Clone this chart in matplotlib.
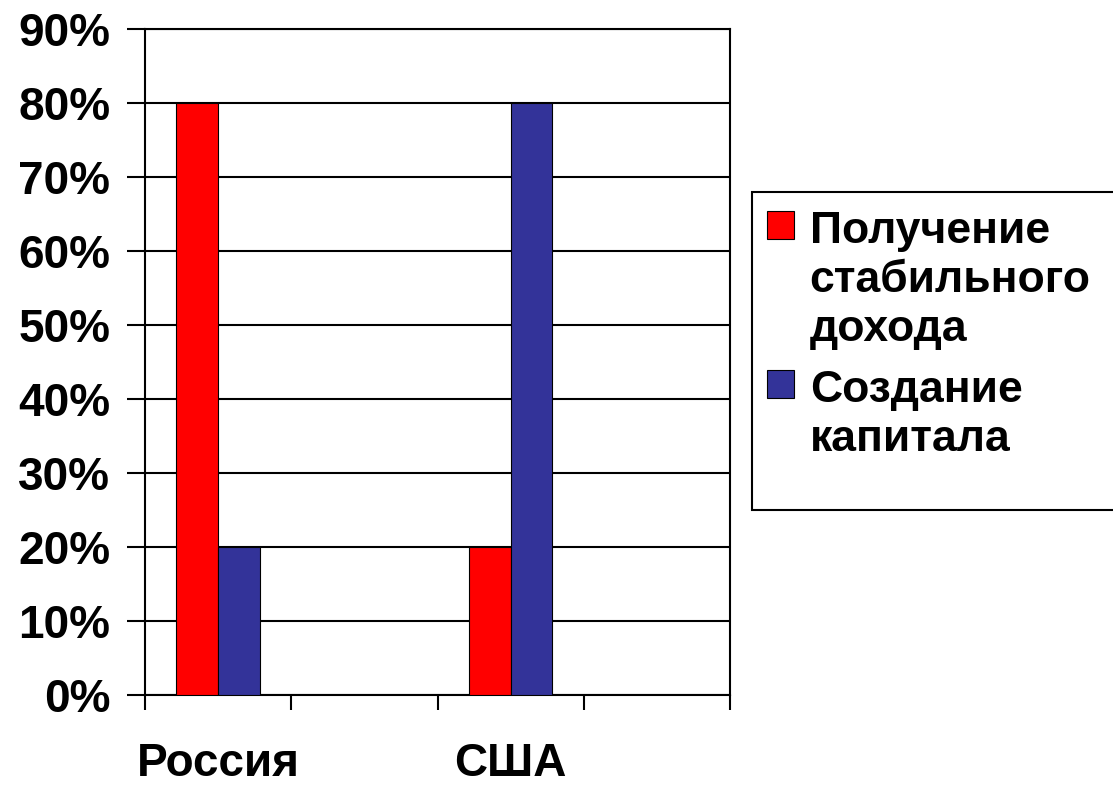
import numpy as np
import matplotlib
matplotlib.use("Agg")
import matplotlib.pyplot as plt
import matplotlib.ticker as ticker
from matplotlib.patches import Rectangle

plt.rcParams["font.family"] = ["Liberation Sans", "DejaVu Sans"]
plt.rcParams["font.weight"] = "bold"

categories = ["Россия", "", "США", ""]
stable_income = [0.8, np.nan, 0.2, np.nan]
capital = [0.2, np.nan, 0.8, np.nan]
series_names = ["Получение\nстабильного\nдохода", "Создание\nкапитала"]
y_ticks = np.arange(0, 0.91, 0.1)

fig = plt.figure(figsize=(11.13, 7.86), dpi=100)
ax = fig.add_axes([0.1303, 0.1158, 0.5256, 0.8473])

x = np.arange(len(categories))
w = 1 / 3.5
ax.bar(x - w / 2, stable_income, width=w, color="#ff0000", edgecolor="black", linewidth=0.8,
       label=series_names[0], zorder=3)
ax.bar(x + w / 2, capital, width=w, color="#333399", edgecolor="black", linewidth=0.8,
       label=series_names[1], zorder=3)

ax.set_xlim(-0.5, len(categories) - 0.5)
ax.set_ylim(0, 0.9)

ax.set_yticks(y_ticks)
ax.yaxis.set_major_formatter(ticker.PercentFormatter(1.0, decimals=0))
ax.tick_params(axis="y", direction="out", length=13, width=1.5, pad=12, labelsize=33, color="black")
ax.yaxis.grid(True, color="black", linewidth=1.5, zorder=0)

# category labels at centres, tick marks at the slot borders
ax.set_xticks(np.arange(-0.5, len(categories)), labels=[""] * (len(categories) + 1))
ax.set_xticks(x, labels=categories, minor=True)
ax.tick_params(axis="x", which="major", direction="out", length=11, width=1.5)
ax.tick_params(axis="x", which="minor", length=0, pad=34, labelsize=33)

for s in ax.spines.values():
    s.set_color("black")
    s.set_linewidth(1.5)

# legend box runs off the right edge like in the original
fig.patches.append(Rectangle((0.6757, 0.3511), 0.4, 0.4046, transform=fig.transFigure,
                             facecolor="white", edgecolor="black", linewidth=1.5, zorder=-1))
leg = ax.legend(loc="upper left", bbox_to_anchor=(0.6891, 0.7316), bbox_transform=fig.transFigure,
                borderaxespad=0, frameon=False,
                prop={"size": 32, "weight": "bold"}, handlelength=0.61, handleheight=0.61,
                handletextpad=0.35, borderpad=0, labelspacing=0.45)
for t in leg.get_texts():
    t.set_linespacing(1.25)
for col in leg._legend_handle_box.get_children():
    for item in col.get_children():
        item.align = "top"

fig.savefig("out.png", dpi=100)
